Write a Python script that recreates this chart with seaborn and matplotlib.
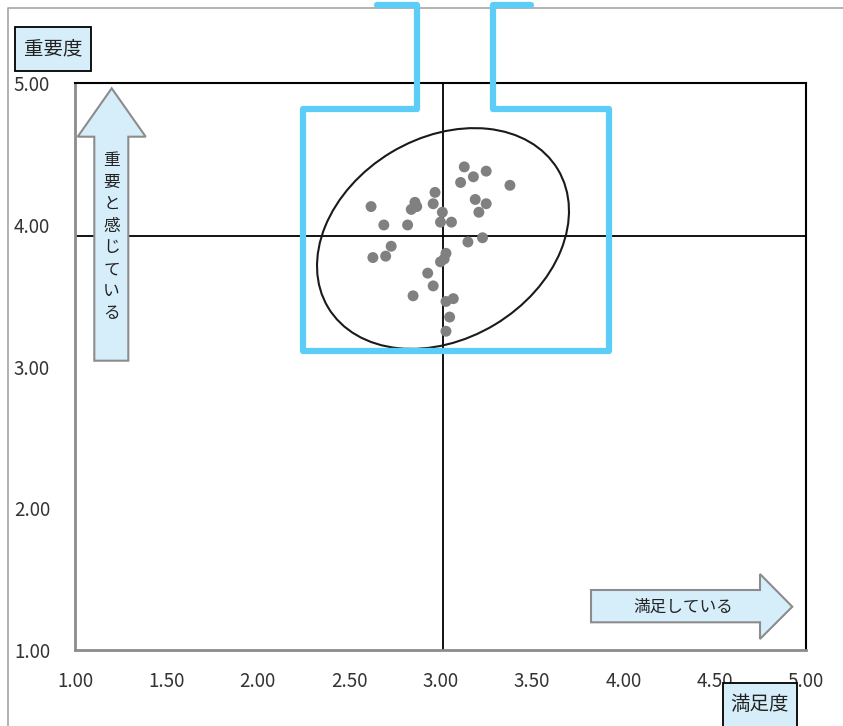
import matplotlib
matplotlib.use("Agg")
import matplotlib.pyplot as plt
import matplotlib.transforms as mtransforms
from matplotlib.patches import Ellipse, Polygon, Rectangle
from matplotlib.lines import Line2D
import pandas as pd
import seaborn as sns

# data
satisfaction = [3.13, 3.25, 3.18, 3.11, 3.38, 2.97, 2.96, 3.19, 3.25, 2.86, 2.84,
                2.87, 2.62, 3.01, 3.21, 3.00, 3.06, 2.69, 2.82, 3.23, 3.15, 2.73,
                2.70, 2.63, 3.03, 3.02, 3.00, 2.93, 2.96, 2.85, 3.07, 3.03, 3.05, 3.03]
importance = [4.41, 4.38, 4.34, 4.30, 4.28, 4.23, 4.15, 4.18, 4.15, 4.16, 4.11,
              4.13, 4.13, 4.09, 4.09, 4.02, 4.02, 4.00, 4.00, 3.91, 3.88, 3.85,
              3.78, 3.77, 3.80, 3.76, 3.74, 3.66, 3.57, 3.50, 3.48, 3.46, 3.35, 3.25]
mean_satisfaction = 3.015
mean_importance = 3.92
x_ticks = [1.0, 1.5, 2.0, 2.5, 3.0, 3.5, 4.0, 4.5, 5.0]
y_ticks = [1.0, 2.0, 3.0, 4.0, 5.0]
x_tick_labels = ["1.00", "1.50", "2.00", "2.50", "3.00", "3.50", "4.00", "4.50", "5.00"]
y_tick_labels = ["1.00", "2.00", "3.00", "4.00", "5.00"]

df = pd.DataFrame({"満足度": satisfaction, "重要度": importance})

sns.set_style("white")
plt.rcParams['font.family'] = ['Noto Sans CJK JP', 'DejaVu Sans']

W, H = 843, 726
fig = plt.figure(figsize=(W / 100, H / 100), dpi=100)
fig.patch.set_facecolor("white")
ax = fig.add_axes([75 / W, 76 / H, 731 / W, 566.7 / H])

# pixel coords (y measured from the top) -> figure
px = mtransforms.Affine2D().scale(1 / W, -1 / H).translate(0, 1) + fig.transFigure

ax.axvline(mean_satisfaction, color="black", lw=1.3, zorder=2)
ax.axhline(mean_importance, color="black", lw=1.3, zorder=2)

sns.scatterplot(data=df, x="満足度", y="重要度", color="#808080", s=62,
                edgecolor="none", ax=ax, zorder=3)

ax.set_xlim(1, 5)
ax.set_ylim(1, 5)
ax.set_xticks(x_ticks)
ax.set_xticklabels(x_tick_labels)
ax.set_yticks(y_ticks)
ax.set_yticklabels(y_tick_labels)
ax.set_xlabel("")
ax.set_ylabel("")
ax.tick_params(axis="both", direction="out", length=5, width=1.5, color="#8c8c8c",
               labelsize=13.5, labelcolor="#333333")
ax.tick_params(axis="x", pad=10)
ax.tick_params(axis="y", pad=13)
for side in ["left", "bottom"]:
    ax.spines[side].set_color("#8c8c8c")
    ax.spines[side].set_linewidth(2)
for side in ["top", "right"]:
    ax.spines[side].set_color("black")
    ax.spines[side].set_linewidth(1.5)

# outer chart border
fig.add_artist(Line2D([8, 8, 843], [726, 8, 8], transform=px, color="#a6a6a6", lw=1.2))

# ellipse around the cluster
fig.add_artist(Ellipse((443, 238.5), 268, 201, angle=-31, transform=px,
                       facecolor="none", edgecolor="#1a1a1a", lw=1.5))

# blue bracket
bx = [377, 416.7, 416.7, 302.5, 302.5, 608.5, 608.5, 493, 493, 531]
by = [5, 5, 108.5, 108.5, 351, 351, 108.5, 108.5, 5, 5]
fig.add_artist(Line2D(bx, by, transform=px, color="#5bcdf6", lw=4.5,
                      solid_capstyle="round", solid_joinstyle="round", zorder=5))

# arrows
arrow_fill = "#d6eefa"
arrow_edge = "#8c8c8c"
up = [(94.3, 360.7), (94.3, 136.7), (77.7, 136.7), (111.7, 88.3),
      (145.7, 136.7), (128.3, 136.7), (128.3, 360.7)]
right = [(591, 590), (760, 590), (760, 574), (792.3, 606.7),
         (760, 639), (760, 622.3), (591, 622.3)]
for pts in [up, right]:
    fig.add_artist(Polygon(pts, closed=True, transform=px, facecolor=arrow_fill,
                           edgecolor=arrow_edge, lw=1.5, zorder=4))
fig.text(111.5, 237, "\n".join("重要と感じている"), transform=px, ha="center",
         va="center", fontsize=12, linespacing=1.38, color="#222222", zorder=6)
fig.text(683, 607, "満足している", transform=px, ha="center", va="center",
         fontsize=12, color="#222222", zorder=6)

# axis title boxes
fig.add_artist(Rectangle((15, 26.7), 75.7, 44, transform=px, facecolor=arrow_fill,
                         edgecolor="black", lw=1.3, zorder=4))
fig.text(52.8, 48.5, "重要度", transform=px, ha="center", va="center",
         fontsize=14, color="#222222", zorder=6)
fig.add_artist(Rectangle((722.7, 683), 74, 50, transform=px, facecolor=arrow_fill,
                         edgecolor="black", lw=1.3, zorder=4))
fig.text(759.7, 704, "満足度", transform=px, ha="center", va="center",
         fontsize=14, color="#222222", zorder=6)

fig.savefig("out.png", dpi=100, facecolor="white")
